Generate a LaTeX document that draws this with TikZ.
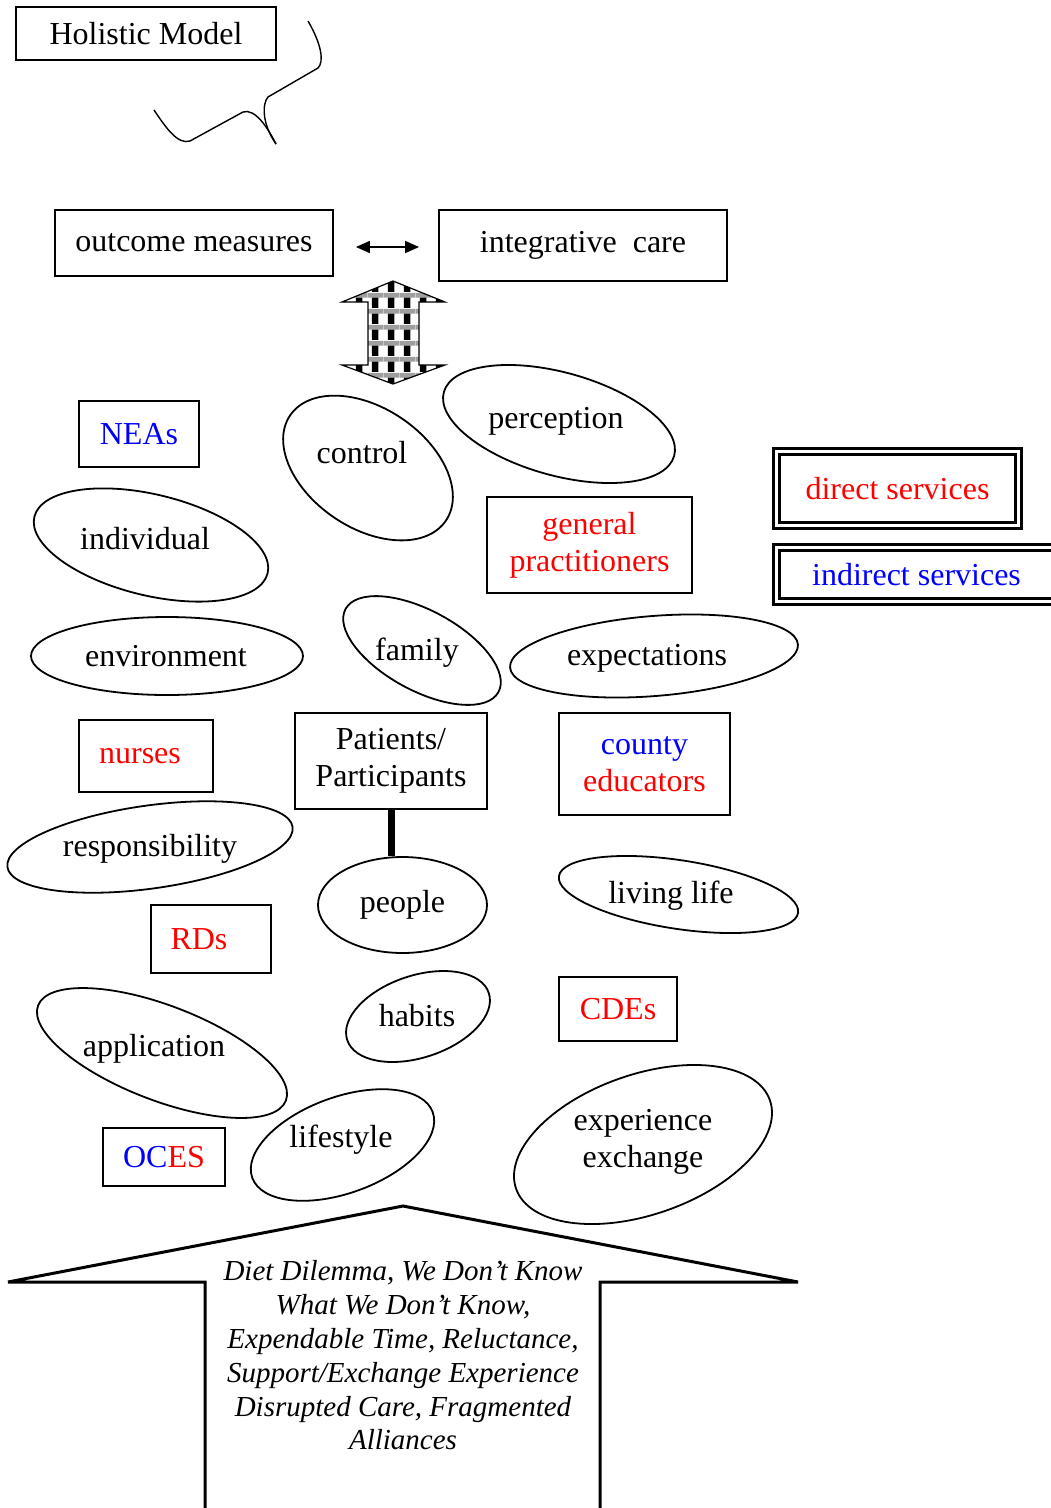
\documentclass[tikz,border=0pt]{standalone}
\usepackage{fontspec}
\setmainfont{Liberation Serif}
\usetikzlibrary{positioning,shapes.geometric,arrows.meta,patterns}

% woven fill for the block arrow
\pgfdeclarepatterninherentlycolored{weave}{\pgfpointorigin}{\pgfqpoint{16pt}{16pt}}{\pgfqpoint{16pt}{16pt}}{%
  \pgfsetfillcolor{white}\pgfpathrectangle{\pgfpointorigin}{\pgfqpoint{16pt}{16pt}}\pgfusepath{fill}%
  \pgfsetfillcolor{gray!75}\pgfpathrectangle{\pgfqpoint{0pt}{11pt}}{\pgfqpoint{16pt}{5pt}}\pgfusepath{fill}%
  \pgfsetfillcolor{black}\pgfpathrectangle{\pgfqpoint{4pt}{0pt}}{\pgfqpoint{7pt}{11pt}}\pgfusepath{fill}%
}

\tikzset{
  box/.style={draw, line width=1.8pt, inner sep=0pt, align=center},
  dbox/.style={draw, double, line width=3pt, double distance=3.5pt, inner sep=0pt, align=center},
  oval/.style={draw, line width=1.8pt},
  tag/.style={inner sep=0pt, align=center},
}

\begin{document}
\begin{tikzpicture}[x=1pt, y=-1pt, font=\fontsize{32}{37}\selectfont]
\useasboundingbox (0,0) rectangle (1051,1508);
\fill[white] (0,0) rectangle (1051,1508);

% title and squiggle
\node[box, minimum width=260, minimum height=53] (hm) at (146,33.5) {Holistic Model};
\draw[line width=1.4pt] (308,21) .. controls (322,45) and (324,62) .. (318,68) -- (268,97)
  .. controls (262,104) and (262,124) .. (276,144);
\draw[line width=1.4pt] (154,110) .. controls (166,128) and (178,145) .. (190,141) -- (243,112)
  .. controls (255,108) and (268,128) .. (276,144);

% top row
\node[box, minimum width=278, minimum height=66] (om) at (194,243) {outcome measures};
\node[box, minimum width=288, minimum height=71] (ic) at (583,245.5) {integrative\ \ care};
\draw[{Triangle[length=14pt,width=12pt]}-{Triangle[length=14pt,width=12pt]}, line width=1.6pt,
  shorten <=22pt, shorten >=19pt] ([yshift=-4pt]om.east) -- ([yshift=-1.5pt]ic.west);

% block arrow
\filldraw[pattern=weave, draw=black, line width=1.2pt] (393,281) -- (445,302) -- (419,302) -- (419,365)
  -- (445,365) -- (393,384) -- (342,365) -- (368,365) -- (368,302) -- (342,302) -- cycle;

% ovals
\draw[oval, rotate around={-34:(368,468)}] (368,468) ellipse [x radius=94, y radius=60];
\node[tag] (ctl) at (362,453) {control};
\draw[oval, rotate around={-15.5:(559,424)}] (559,424) ellipse [x radius=119.5, y radius=51.5];
\node[tag] (per) at (556,421) {perception};
\draw[oval, rotate around={-13.6:(151,545)}] (151,545) ellipse [x radius=120, y radius=50.5];
\node[tag] (ind) at (145,539) {individual};
\draw[oval] (167,656) ellipse [x radius=136, y radius=39];
\node[tag] (env) at (166,656) {environment};
\draw[oval, rotate around={-28.5:(422,650.5)}] (422,650.5) ellipse [x radius=87, y radius=40];
\node[tag] (fam) at (417,653) {family};
\draw[oval, rotate around={4.6:(654,656)}] (654,656) ellipse [x radius=144.4, y radius=40];
\node[tag] (exp) at (647,658) {expectations};
\draw[oval, rotate around={8:(150,847)}] (150,847) ellipse [x radius=144, y radius=41.5];
\node[tag] (resp) at (150,849) {responsibility};
\draw[oval, rotate around={-8.7:(678.5,894.5)}] (678.5,894.5) ellipse [x radius=121, y radius=34.3];
\node[tag] (liv) at (671,896) {living life};
\draw[oval, rotate around={18.4:(418,1016.5)}] (418,1016.5) ellipse [x radius=74.6, y radius=41];
\node[tag] (hab) at (417,1016) {habits};
\draw[oval, rotate around={-21:(162,1053)}] (162,1053) ellipse [x radius=132.7, y radius=47.4];
\node[tag] (app) at (154,1049) {application};
\draw[oval, rotate around={20:(342.5,1145)}] (342.5,1145) ellipse [x radius=96, y radius=48];
\node[tag] (life) at (341,1140) {lifestyle};
\draw[oval, rotate around={19.2:(643,1144.5)}] (643,1144.5) ellipse [x radius=134.4, y radius=70];
\node[tag] (exex) at (643,1142) {experience\\exchange};

% boxes
\node[box, text=blue, minimum width=120, minimum height=66] (neas) at (139,434) {NEAs};
\node[box, text=red, minimum width=205, minimum height=96] (gp) at (589.5,545) {general\\practitioners};
\node[dbox, text=red, minimum width=242, minimum height=74] (ds) at (897.5,488.5) {direct services};
\node[dbox, text=blue, minimum width=280, minimum height=54] (is) at (916.5,574.5) {indirect services};
\node[box, text=red, minimum width=134, minimum height=72] (nrs) at (146,756) {nurses\hspace{12pt}};
\node[box, minimum width=192, minimum height=96] (pp) at (391,761) {Patients/\\Participants};
\node[box, minimum width=171, minimum height=102] (ce) at (644.5,764) {\textcolor{blue}{county}\\\textcolor{red}{educators}};
\node[box, text=red, minimum width=120, minimum height=68] (rds) at (211,939) {RDs\hspace{24pt}};
\node[box, text=red, minimum width=118, minimum height=64] (cdes) at (618,1009) {CDEs};
\node[box, minimum width=122, minimum height=58] (oces) at (164,1157) {\textcolor{blue}{OC}\textcolor{red}{ES}};

% patients to people
\node[oval, ellipse, minimum width=169, minimum height=96, inner sep=0pt] (ppl) at (402.5,905) {people\hspace{5pt}};
\draw[line width=7pt] (pp.south) -- (pp.south |- ppl.north);

% house
\draw[line width=3pt, line join=miter] (205,1508) -- (205,1282) -- (8,1282) -- (403,1206)
  -- (798,1282) -- (600,1282) -- (600,1508);
\node[tag, font=\fontsize{29}{33.8}\selectfont\itshape] (dd) at (403,1355.5)
  {Diet Dilemma, We Don’t Know\\What We Don’t Know,\\Expendable Time, Reluctance,\\Support/Exchange Experience\\Disrupted Care, Fragmented\\Alliances};
\end{tikzpicture}
\end{document}
